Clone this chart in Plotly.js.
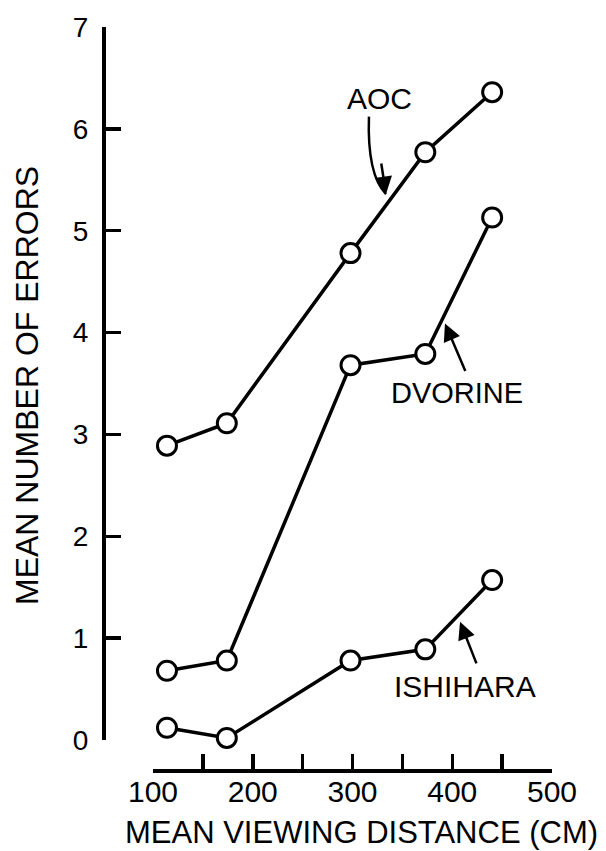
<!DOCTYPE html>
<html>
<head>
<meta charset="utf-8">
<script src="https://cdn.plot.ly/plotly-3.0.1.min.js"></script>
<style>html,body{margin:0;padding:0;background:#fff;}#chart{width:606px;height:851px;}</style>
</head>
<body>
<div id="chart"></div>
<script>
// Data
const distance = [114, 174, 298, 373, 440];
const aoc      = [2.89, 3.11, 4.78, 5.77, 6.36];
const dvorine  = [0.68, 0.78, 3.68, 3.79, 5.13];
const ishihara = [0.12, 0.02, 0.78, 0.89, 1.57];

const xTickVals = [100, 150, 200, 250, 300, 350, 400, 450, 500];
const xTickText = ['100', '', '200', '', '300', '', '400', '', '500'];
const yTickVals = [0, 1, 2, 3, 4, 5, 6, 7];
const yTickText = ['0', '1', '2', '3', '4', '5', '6', '7'];

const W = 606, H = 851;
const FONT = 'Liberation Sans, Arial, sans-serif';
const px = v => v / W;            // paper x fraction
const py = v => (H - v) / H;      // paper y fraction from top pixel

function series(name, y) {
  return {
    type: 'scatter', mode: 'lines+markers', name: name,
    x: distance, y: y, cliponaxis: false,
    line: {color: '#000', width: 3.5},
    marker: {symbol: 'circle', size: 19, color: '#fff', line: {color: '#000', width: 3}}
  };
}

const data = [series('AOC', aoc), series('DVORINE', dvorine), series('ISHIHARA', ishihara)];

const layout = {
  width: W, height: H,
  margin: {l: 0, r: 0, t: 0, b: 0},
  paper_bgcolor: '#fff', plot_bgcolor: '#fff',
  showlegend: false,
  font: {family: FONT, color: '#000'},
  xaxis: {
    domain: [px(153), px(552)], range: [100, 500],
    anchor: 'free', position: py(770),
    showline: true, linecolor: '#000', linewidth: 3.5,
    showgrid: false, zeroline: false,
    ticks: 'inside', ticklen: 15, tickwidth: 3.5, tickcolor: '#000',
    tickmode: 'array', tickvals: xTickVals, ticktext: xTickText,
    tickfont: {family: FONT, size: 30, color: '#000'},
    ticklabelstandoff: -7
  },
  yaxis: {
    domain: [py(740), py(27)], range: [0, 7],
    anchor: 'free', position: px(103),
    showline: true, linecolor: '#000', linewidth: 3.5,
    showgrid: false, zeroline: false,
    ticks: 'inside', ticklen: 15, tickwidth: 3.5, tickcolor: '#000',
    tickmode: 'array', tickvals: yTickVals, ticktext: yTickText,
    tickfont: {family: FONT, size: 28, color: '#000'},
    ticklabelstandoff: 8
  },
  shapes: [
    {type: 'path', xref: 'x', yref: 'y',
     path: 'M 316.5 6.12 Q 314.5 5.55 333.6 5.36',
     line: {color: '#000', width: 2.5}}
  ],
  annotations: [
    {xref: 'paper', yref: 'paper', x: px(361), y: py(832), xanchor: 'center', yanchor: 'middle',
     text: 'MEAN VIEWING DISTANCE (CM)', showarrow: false, font: {family: FONT, size: 31, color: '#000'}},
    {xref: 'paper', yref: 'paper', x: px(27), y: py(386), xanchor: 'center', yanchor: 'middle',
     text: 'MEAN NUMBER OF ERRORS', textangle: -90, showarrow: false, font: {family: FONT, size: 32, color: '#000'}},
    {xref: 'x', yref: 'y', x: 326.6, y: 6.30, xanchor: 'center', yanchor: 'middle',
     text: 'AOC', showarrow: false, font: {family: FONT, size: 30, color: '#000'}},
    {xref: 'x', yref: 'y', x: 333.6, y: 5.36, text: '', showarrow: true,
     axref: 'pixel', ayref: 'pixel', ax: -5, ay: -32,
     arrowhead: 2, arrowsize: 1.4, arrowwidth: 2.5, arrowcolor: '#000'},
    {xref: 'x', yref: 'y', x: 404.8, y: 3.41, xanchor: 'center', yanchor: 'middle',
     text: 'DVORINE', showarrow: false, font: {family: FONT, size: 29, color: '#000'}},
    {xref: 'x', yref: 'y', x: 392.7, y: 4.09, text: '', showarrow: true,
     axref: 'pixel', ayref: 'pixel', ax: 21, ay: 49,
     arrowhead: 2, arrowsize: 1.4, arrowwidth: 2.5, arrowcolor: '#000'},
    {xref: 'x', yref: 'y', x: 412.8, y: 0.53, xanchor: 'center', yanchor: 'middle',
     text: 'ISHIHARA', showarrow: false, font: {family: FONT, size: 30, color: '#000'}},
    {xref: 'x', yref: 'y', x: 407.8, y: 1.16, text: '', showarrow: true,
     axref: 'pixel', ayref: 'pixel', ax: 17, ay: 43,
     arrowhead: 2, arrowsize: 1.4, arrowwidth: 2.5, arrowcolor: '#000'}
  ]
};

Plotly.newPlot('chart', data, layout, {displayModeBar: false, staticPlot: true});
</script>
</body>
</html>
